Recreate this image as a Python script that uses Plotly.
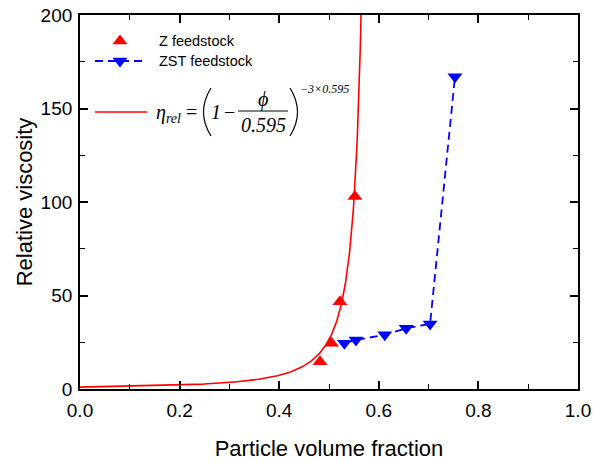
import numpy as np
import plotly.graph_objects as go

# ---- data ----
z_phi = [0.482, 0.505, 0.522, 0.552]
z_eta = [14.6, 24.4, 46.7, 103.0]

zst_phi = [0.531, 0.554, 0.612, 0.655, 0.703, 0.753]
zst_eta = [24.5, 26.2, 29.0, 32.5, 34.8, 167.0]

# model curve shown in the legend: eta = (1 - phi/0.595)^(-3*0.595)
phi_max = 0.595
model_phi = np.linspace(0.0, 0.5675, 600)
model_eta = (1 - model_phi / phi_max) ** (-3 * phi_max)

x_ticks = [0.0, 0.2, 0.4, 0.6, 0.8, 1.0]
y_ticks = [0, 50, 100, 150, 200]

RED = "#ff0000"
BLUE = "#0000ff"
MS = 13

fig = go.Figure()

fig.add_trace(go.Scatter(x=model_phi, y=model_eta, mode="lines",
                         line=dict(color=RED, width=1.6), showlegend=False, hoverinfo="skip"))
fig.add_trace(go.Scatter(x=z_phi, y=z_eta, mode="markers",
                         marker=dict(symbol="triangle-up", size=MS, color=RED, line=dict(width=0)),
                         name="Z feedstock", showlegend=False))
fig.add_trace(go.Scatter(x=zst_phi, y=zst_eta, mode="lines+markers",
                         line=dict(color=BLUE, width=1.8, dash="8px,5px"),
                         marker=dict(symbol="triangle-down", size=MS, color=BLUE, line=dict(width=0)),
                         name="ZST feedstock", showlegend=False))

# ---- legend drawn on a hidden overlay axis in pixel units ----
L = dict(xaxis="x2", yaxis="y2", showlegend=False, hoverinfo="skip")
fig.add_trace(go.Scatter(x=[120], y=[41], mode="markers",
                         marker=dict(symbol="triangle-up", size=MS, color=RED), **L))
fig.add_trace(go.Scatter(x=[95, 147], y=[61, 61], mode="lines",
                         line=dict(color=BLUE, width=1.8, dash="8px,5px"), **L))
fig.add_trace(go.Scatter(x=[120], y=[61], mode="markers",
                         marker=dict(symbol="triangle-down", size=MS, color=BLUE), **L))
fig.add_trace(go.Scatter(x=[95, 147], y=[112, 112], mode="lines",
                         line=dict(color=RED, width=1.6), **L))

ann = []
sans = "Liberation Sans, Arial, sans-serif"
serif = "Liberation Serif, Times New Roman, serif"
ann.append(dict(x=157, y=41, text="Z feedstock", xanchor="left", yanchor="middle",
                font=dict(family=sans, size=14.5, color="black")))
ann.append(dict(x=157, y=61, text="ZST feedstock", xanchor="left", yanchor="middle",
                font=dict(family=sans, size=14.5, color="black")))
ann.append(dict(x=154, y=113, text="<i>η<sub>rel</sub></i>", xanchor="left", yanchor="middle",
                font=dict(family=serif, size=20, color="black")))
ann.append(dict(x=191, y=112, text="=", xanchor="center", yanchor="middle",
                font=dict(family=serif, size=20, color="black")))
ann.append(dict(x=216, y=112, text="<i>1</i>", xanchor="center", yanchor="middle",
                font=dict(family=serif, size=20, color="black")))
ann.append(dict(x=229, y=112, text="−", xanchor="center", yanchor="middle",
                font=dict(family=serif, size=20, color="black")))
ann.append(dict(x=263, y=99, text="<i>ϕ</i>", xanchor="center", yanchor="middle",
                font=dict(family=serif, size=20, color="black")))
ann.append(dict(x=263, y=125, text="<i>0.595</i>", xanchor="center", yanchor="middle",
                font=dict(family=serif, size=20, color="black")))
ann.append(dict(x=298, y=89, text="<i>−3×0.595</i>", xanchor="left", yanchor="middle",
                font=dict(family=serif, size=12, color="black")))
for a in ann:
    a.update(xref="x2", yref="y2", showarrow=False)

shapes = [
    dict(type="line", xref="x2", yref="y2", x0=238, x1=288, y0=111, y1=111,
         line=dict(color="black", width=1)),
    dict(type="path", xref="x2", yref="y2", path="M 211,88 Q 196,112 211,136",
         line=dict(color="black", width=1.2)),
    dict(type="path", xref="x2", yref="y2", path="M 290,88 Q 305,112 290,136",
         line=dict(color="black", width=1.2)),
]

axis_common = dict(showline=True, linecolor="black", linewidth=1.8, mirror="ticks",
                   ticks="inside", ticklen=8, tickwidth=1.5, tickcolor="black",
                   showgrid=False, zeroline=False, automargin=False,
                   tickfont=dict(family=sans, size=19, color="black"))

fig.update_layout(
    width=594, height=461,
    margin=dict(l=80, r=16, t=15, b=72),
    paper_bgcolor="white", plot_bgcolor="white",
    xaxis=dict(range=[0, 1], tickvals=x_ticks, ticktext=[f"{v:.1f}" for v in x_ticks],
               ticklabelstandoff=3,
               minor=dict(dtick=0.1, ticks="inside", ticklen=5, tickwidth=1, tickcolor="black"),
               title=dict(text="Particle volume fraction", font=dict(family=sans, size=22, color="black"),
                          standoff=21),
               **axis_common),
    yaxis=dict(range=[0, 200], tickvals=y_ticks, ticklabelstandoff=2,
               minor=dict(dtick=25, ticks="inside", ticklen=5, tickwidth=1, tickcolor="black"),
               title=dict(text="Relative viscosity", font=dict(family=sans, size=22, color="black"),
                          standoff=2),
               **axis_common),
    xaxis2=dict(overlaying="x", range=[80, 578], visible=False, fixedrange=True),
    yaxis2=dict(overlaying="y", range=[389, 15], visible=False, fixedrange=True),
    annotations=ann, shapes=shapes, showlegend=False,
)

fig.write_html("out.html")
